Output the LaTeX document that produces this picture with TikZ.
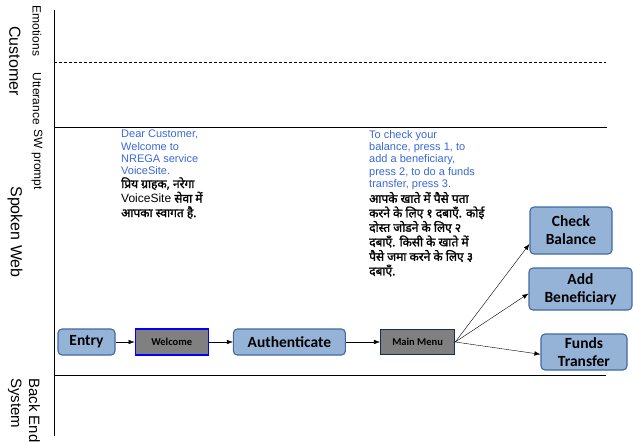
\documentclass[tikz,border=0pt]{standalone}
\usepackage{fontspec}
\setmainfont{Liberation Sans}
\newfontfamily\calibri{Carlito}
\newfontfamily\hindi[Script=Devanagari,FakeBold=1.6]{Noto Sans}
\usetikzlibrary{positioning,arrows.meta}

\definecolor{boxblue}{RGB}{149,179,215}
\definecolor{boxedge}{RGB}{65,105,160}
\definecolor{promptblue}{RGB}{55,105,215}
\definecolor{menuedge}{RGB}{25,45,80}

\tikzset{
  task/.style={draw=boxedge, fill=boxblue, line width=1.1pt, rounded corners=4pt,
    inner sep=0pt, align=center, font=\calibri\bfseries\fontsize{15.5}{18}\selectfont},
  prompt/.style={fill=gray, line width=1.3pt, minimum height=26pt, inner sep=0pt,
    font=\calibri\bfseries\fontsize{10.5}{12}\selectfont},
  lane/.style={rotate=-90, inner sep=0pt, font=\fontsize{16}{18}\selectfont},
  sublane/.style={rotate=-90, inner sep=0pt, font=\fontsize{12}{12}\selectfont},
  say/.style={anchor=north west, align=left, inner sep=0pt, text=promptblue,
    font=\fontsize{11}{12.3}\selectfont},
  sayhi/.style={anchor=north west, align=left, inner sep=0pt,
    font=\hindi\fontsize{12}{14.5}\selectfont}
}

\begin{document}
\begin{tikzpicture}[x=1pt, y=-1pt, >={Latex[length=6pt,width=4.5pt]}]
      \useasboundingbox (0,0) rectangle (633,442);

      % Swim lanes
      \draw[line width=0.9pt] (54,10) -- (54,436);
      \draw[line width=0.8pt, dash pattern=on 3pt off 2pt] (54,62.5) -- (606,62.5);
      \draw[line width=0.8pt] (54,127) -- (607,127);
      \draw[line width=0.8pt] (54,375) -- (606,375);

      % Lane labels
      \node (customer) [lane] at (15,61) {Customer};
      \node (spokenweb) [lane] at (15,232) {Spoken Web};
      \node (backend) [lane, anchor=west, align=left, font=\fontsize{15}{18}\selectfont] at (24,378) {Back End\\System};
      \node (emotions) [sublane] at (37,31) {Emotions};
      \node (utterance) [sublane] at (37,99) {Utterance};
      \node (swprompt) [sublane] at (37,160) {SW prompt};

      % Prompts played to the caller
      \node (welcomeEn) [say] at (121,130) {Dear Customer,\\Welcome to\\NREGA service\\VoiceSite.};
      \node (welcomeHi) [sayhi, yshift=-2pt] at (welcomeEn.south west)
        {प्रिय ग्राहक, नरेगा\\{\rmfamily VoiceSite} सेवा में\\आपका स्वागत है.};
      \node (menuEn) [say] at (369,130) {To check your\\balance, press 1, to\\add a beneficiary,\\press 2, to do a funds\\transfer, press 3.};
      \node (menuHi) [sayhi, yshift=-2pt] at (menuEn.south west)
        {आपके खाते में पैसे पता\\करने के लिए १ दबाएँ. कोई\\दोस्त जोडने के लिए २\\दबाएँ. किसी के खाते में\\पैसे जमा करने के लिए ३\\दबाएँ.};

      % Call flow
      \node (entry) [task, minimum width=57pt, minimum height=26pt] at (86.5,342) {Entry};
      \node (welcome) [prompt, draw=blue, minimum width=73pt, right=19pt of entry] {Welcome};
      \node (auth) [task, minimum width=112pt, minimum height=26pt, right=24pt of welcome] {Authenticate};
      \node (menu) [prompt, draw=menuedge, minimum width=74pt, minimum height=25pt, right=34pt of auth] {Main Menu};
      \node (balance) [task, minimum width=82pt, minimum height=47pt] at (571,230.5) {Check\\Balance};
      \node (beneficiary) [task, minimum width=103pt, minimum height=42pt] at (580.5,289) {Add\\Beneficiary};
      \node (transfer) [task, minimum width=86pt, minimum height=36pt] at (584,352) {Funds\\Transfer};

      % Arrows
      \draw[->] (entry) -- (welcome);
      \draw[->] (welcome) -- (auth);
      \draw[->] (auth) -- (menu);
      \draw[->] (menu.east) -- (balance.198);
      \draw[->] (menu.east) -- (beneficiary.185);
      \draw[->] (menu.east) -- (transfer.183);

  \end{tikzpicture}
\end{document}
